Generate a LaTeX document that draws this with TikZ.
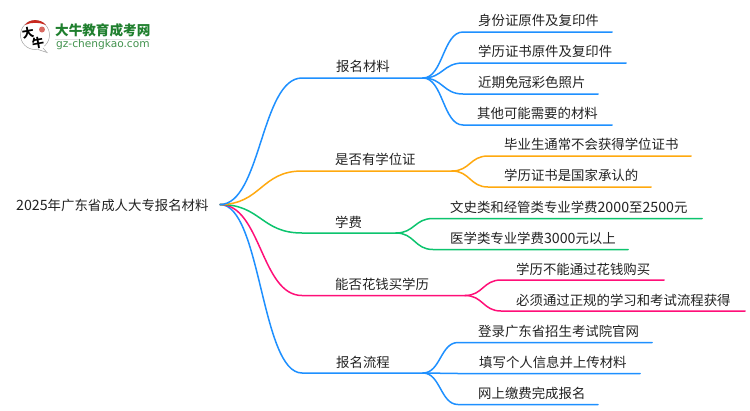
\documentclass[tikz,border=0pt]{standalone}
\usepackage{fontspec}
\setmainfont{Noto Sans CJK SC}
\newfontfamily\logolatin{DejaVu Sans}
\newfontfamily\digf[Scale=1.06]{Noto Sans CJK SC}
\newcommand{\dg}[1]{{\digf #1}}
\usetikzlibrary{calc}
\definecolor{cblue}{HTML}{1E90FF}
\definecolor{corange}{HTML}{FFA90F}
\definecolor{cgreen}{HTML}{0CC46E}
\definecolor{cpink}{HTML}{FF0F78}
\definecolor{ink}{HTML}{222222}
\definecolor{logogreen}{HTML}{1F7F2E}
\definecolor{logored}{HTML}{C8281E}
\tikzset{
  lbl/.style={anchor=west,inner sep=0pt,font=\fontsize{13.4}{14}\selectfont,text=ink},
  conn/.style={line width=1.5pt,line cap=round,line join=round},
}
% from hub, bend point, end of the underline
\newcommand{\linkit}[4]{\draw[conn,#1] (#2) .. controls ($(#2)!.5!(#2 -| #3)$) and ($(#3)!.5!(#3 -| #2)$) .. (#3) -- (#4);}
\begin{document}
\begin{tikzpicture}[x=1pt,y=-1pt]
\useasboundingbox (0,0) rectangle (750,410);
\fill[white] (0,0) rectangle (750,410);
% logo
\fill[white,draw=black!35,line width=.5pt] (35,35) circle (14.5);
\fill[white] (43,44) -- (47,52.5) -- (37,49) -- cycle;
\draw[black!35,line width=.5pt] (43,48) -- (47,52.5) -- (38,49.5);
\fill[logored] (25,25) .. controls (29,18.5) and (41,18.5) .. (46,25) .. controls (39,22) and (31,22) .. (25,25) -- cycle;
\fill[logored!70] (42,29.5) circle (3);
\node[inner sep=0pt,rotate=10,font=\fontsize{12}{12}\selectfont\bfseries] (logoa) at (28,33) {大};
\node[inner sep=0pt,rotate=10,font=\fontsize{12}{12}\selectfont\bfseries] (logob) at (38,42.5) {牛};
\node[inner sep=0pt,anchor=west,font=\fontsize{13.6}{14}\selectfont\bfseries,text=logogreen] (logot) at (55,30) {大牛教育成考网};
\draw[black!12,line width=.8pt] (55,39) -- (150,39);
\node[inner sep=0pt,anchor=west,font=\logolatin\fontsize{10.6}{11}\selectfont,text=logogreen!85] (logou) at (56,45) {gz-chengkao.com};
% texts
\node[lbl] (r) at (16,205.5) {\dg{2025}年广东省成人大专报名材料};
\node[lbl] (a) at (336,66) {报名材料};
\node[lbl] (b) at (335,159) {是否有学位证};
\node[lbl] (c) at (335,222) {学费};
\node[lbl] (d) at (335,284) {能否花钱买学历};
\node[lbl] (e) at (336,362) {报名流程};
\node[lbl] (a1) at (478,20) {身份证原件及复印件};
\node[lbl] (a2) at (478,51) {学历证书原件及复印件};
\node[lbl] (a3) at (478,82) {近期免冠彩色照片};
\node[lbl] (a4) at (477,113) {其他可能需要的材料};
\node[lbl] (b1) at (504,144) {毕业生通常不会获得学位证书};
\node[lbl] (b2) at (504,175) {学历证书是国家承认的};
\node[lbl] (c1) at (450,207) {文史类和经管类专业学费\dg{2000}至\dg{2500}元};
\node[lbl] (c2) at (450,238) {医学类专业学费\dg{3000}元以上};
\node[lbl] (d1) at (516,269) {学历不能通过花钱购买};
\node[lbl] (d2) at (516,300) {必须通过正规的学习和考试流程获得};
\node[lbl] (e1) at (478,331) {登录广东省招生考试院官网};
\node[lbl] (e2) at (479,362) {填写个人信息并上传材料};
\node[lbl] (e3) at (478,393) {网上缴费完成报名};
% coordinates
\coordinate (hub) at (220,204.5);
\coordinate (ab) at (302,78); \coordinate (ah) at (423,78);
\coordinate (bb) at (302,171); \coordinate (bh) at (452,171);
\coordinate (cb) at (302,233); \coordinate (ch) at (396,233);
\coordinate (db) at (302,295.5); \coordinate (dh) at (465,295.5);
\coordinate (eb) at (302,373); \coordinate (eh) at (423,373);
\coordinate (a1b) at (463,32); \coordinate (a1e) at (612,32);
\coordinate (a2b) at (463,63); \coordinate (a2e) at (626,63);
\coordinate (a3b) at (463,94); \coordinate (a3e) at (598,94);
\coordinate (a4b) at (463,125); \coordinate (a4e) at (612,125);
\coordinate (b1b) at (488,156); \coordinate (b1e) at (691,156);
\coordinate (b2b) at (488,187); \coordinate (b2e) at (651,187);
\coordinate (c1b) at (433,218.5); \coordinate (c1e) at (702,218.5);
\coordinate (c2b) at (433,249.5); \coordinate (c2e) at (628,249.5);
\coordinate (d1b) at (501,280); \coordinate (d1e) at (664,280);
\coordinate (d2b) at (501,311); \coordinate (d2e) at (745,311);
\coordinate (e1b) at (458,342.5); \coordinate (e1e) at (652,342.5);
\coordinate (e2b) at (458,373.5); \coordinate (e2e) at (640,373.5);
\coordinate (e3b) at (458,404.5); \coordinate (e3e) at (598,404.5);
% connectors
\linkit{cblue}{hub}{eb}{eh}
\linkit{cpink}{hub}{db}{dh}
\linkit{cgreen}{hub}{cb}{ch}
\linkit{corange}{hub}{bb}{bh}
\linkit{cblue}{hub}{ab}{ah}
\linkit{cblue}{ah}{a1b}{a1e}
\linkit{cblue}{ah}{a2b}{a2e}
\linkit{cblue}{ah}{a3b}{a3e}
\linkit{cblue}{ah}{a4b}{a4e}
\linkit{corange}{bh}{b1b}{b1e}
\linkit{corange}{bh}{b2b}{b2e}
\linkit{cgreen}{ch}{c1b}{c1e}
\linkit{cgreen}{ch}{c2b}{c2e}
\linkit{cpink}{dh}{d1b}{d1e}
\linkit{cpink}{dh}{d2b}{d2e}
\linkit{cblue}{eh}{e1b}{e1e}
\linkit{cblue}{eh}{e2b}{e2e}
\linkit{cblue}{eh}{e3b}{e3e}
\end{tikzpicture}
\end{document}
